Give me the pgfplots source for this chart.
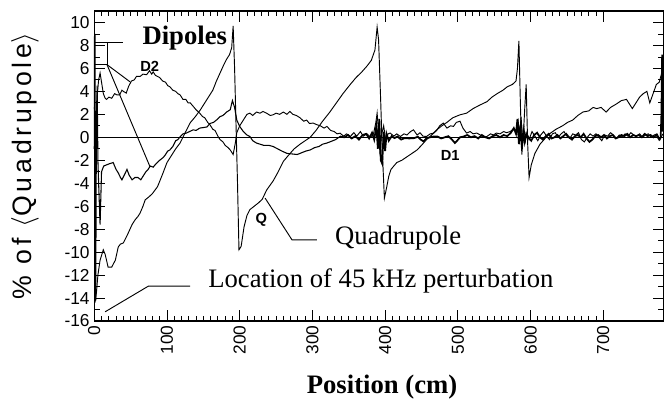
\documentclass[border=0pt]{standalone}
\usepackage{pgfplots}
\pgfplotsset{compat=1.18}
\usepackage{fontspec}
\setmainfont{Liberation Serif}
\newfontfamily\sansf{Liberation Sans}
\newfontfamily\ylabf[LetterSpace=14]{Liberation Sans}
\begin{document}
\begin{tikzpicture}[x=1pt,y=1pt]
\useasboundingbox (0,0) rectangle (499.5,300);
\begin{axis}[
  at={(70.7pt,59.25pt)}, anchor=south west,
  scale only axis, width=427pt, height=232.5pt,
  xmin=0, xmax=783, ymin=-16, ymax=11,
  xtick={0,100,...,700}, minor x tick num=9,
  ytick={-16,-14,...,10}, minor y tick num=1,
  tick align=inside, major tick length=8pt, minor tick length=4pt,
  every tick/.style={black, line width=0.6pt},
  axis line style={black, line width=1pt},
  /pgf/number format/assume math mode=true,
  xticklabel style={rotate=90, anchor=east, font=\sansf\fontsize{13}{14}\selectfont},
  yticklabel style={font=\sansf\fontsize{13}{14}\selectfont},
  clip=false,
]
% zero line
\addplot [black, line width=0.7pt] coordinates {(0,0) (783,0)};
% Q
\addplot [black, line width=0.7pt] coordinates {
(0,8.8) (1,-14.4) (3,-13.5) (5,-12) (8,-10.7) (12.4,-9.8) (15,-10.2) (19,-11.3) (24,-11.3) (29,-10.7) (33,-9.55) (36,-9.3) (40,-9.2) (44,-8.7) (47,-8.3) (52,-7.6) (56,-7.2) (60,-6.9) (63,-6.6) (67,-6.0) (70,-5.45) (75,-5.2) (80,-4.9) (87,-4.3) (94,-3.2) (100,-2.2) (106,-1.6) (112,-1.0) (118,-0.5) (125,0.4) (132,1.27) (139,1.8) (146,2.4) (152,3.0) (157,3.5) (163,4.1) (168,4.9) (173,5.6) (178,6.3) (182,6.8) (186,7.2) (189,7.8) (191,9.7) (193,6) (195,1) (197,-4) (199,-9.8) (202,-9.5) (206,-7.8) (210,-6.8) (214,-6.3) (220,-6.0) (226,-5.7) (231,-5.4) (237,-4.6) (246,-3.8) (253,-3.0) (260,-2.1) (268,-1.5) (275,-1.0) (283,-0.6) (290,-0.3) (297,0.0) (305,0.6) (314,1.4) (324,2.2) (333,3.0) (342,3.8) (352,4.6) (360,5.2) (368,5.7) (375,6.2) (381,6.7) (386,7.6) (389,9.6) (391,8.5) (394,3) (396,-1) (399,-5.3) (402,-4.4) (405,-3.4) (408,-2.8) (416,-2.2) (423,-2.0) (430,-1.7) (437,-1.4) (444,-1.1) (450,-0.7) (457,-0.2) (464,0.2) (471,0.65) (478,1.0) (485,1.3) (493,1.7) (503,1.96) (512,2.1) (521,2.5) (530,2.8) (540,3.1) (547,3.5) (554,3.8) (562,4.1) (568,4.4) (575,4.6) (580,4.9) (582,6) (584,8.4) (586,3) (588,-1.5) (590,0) (592,2.5) (594,4.6) (596,-0.5) (598,-3.5) (601,-2.4) (606,-1.4) (613,-0.6) (620,-0.1) (626,0.3) (635,0.7) (644,1.0) (651,1.3) (658,1.5) (665,1.9) (672,2.2) (680,2.3) (686,2.6) (691,2.5) (697,2.6) (704,2.2) (710,2.6) (718,2.9) (725,3.2) (732,3.3) (736,2.9) (740,2.5) (745,3.0) (750,3.5) (755,3.8) (760,4.0) (764,3.0) (768,3.7) (773,4.6) (777,4.8) (780,5.5) (782,7.1)
};
% D2
\addplot [black, line width=0.7pt] coordinates {
(2,1.0) (4,3.6) (6,5.0) (8,5.6) (10,4.8) (12.5,3.8) (15,3.4) (17,3.3) (20,3.5) (24,3.4) (28,3.8) (31,3.7) (35,3.7) (38,4.1) (40,4.0) (44,3.85) (47,4.4) (51,4.9) (55,5.0) (58,5.3) (63,5.3) (67,5.5) (72,5.45) (76,5.8) (79,5.5) (81,5.7) (84,5.4) (87,5.3) (90,5.2) (94,4.9) (98,4.8) (101,4.5) (104,4.4) (108,4.1) (112,4.0) (115,3.8) (118,3.7) (122,3.3) (126,3.3) (129,3.0) (132,3.0) (136,2.7) (140,2.4) (145,2.1) (149,1.8) (152,1.7) (156,1.3) (159,1.1) (163,0.7) (166,0.6) (170,0.1) (173,-0.2) (177,-0.4) (180,-0.7) (184,-0.9) (187,-1.1) (191,-1.5) (194,-0.5) (196,0.4) (200,1.0) (205,1.5) (210,2.0) (214,2.1) (218,1.9) (223,2.2) (228,2.1) (232,2.25) (237,2.1) (242,1.9) (246,1.96) (250,2.1) (255,2.0) (260,2.2) (265,2.0) (269,2.25) (273,2.0) (278,1.9) (283,1.7) (288,1.4) (292,1.5) (296,1.2) (301,1.24) (306,1.1) (311,1.0) (316,0.8) (320,0.95) (325,0.6) (330,0.5) (334,0.3) (338,0.36) (343,0.1) (347,0.3) (352,0.07) (357,0.4) (361,0.1) (366,0.5) (370,0.1) (375,0.3) (380,0.0) (384,0.3) (387,1.2) (389,2.1) (391,0.5) (393,-1.5) (395,0.2) (398,1.0) (401,-0.3) (404,0.3) (407,0.37) (412,0.1) (416,0.3) (421,0.07) (426,0.3) (430,0.2) (435,0.5) (439,0.65) (444,0.2) (448,0.4) (452,0.1) (457,0.07) (462,0.3) (467,0.37) (471,0.6) (475,1.0) (480,1.24) (485,0.8) (490,1.0) (494,0.95) (498,1.3) (503,1.4) (507,0.8) (512,0.37) (517,0.5) (521,0.3) (526,0.37) (531,0.2) (535,0.0) (540,0.07) (545,0.3) (549,0.2) (553,0.37) (558,0.3) (563,0.5) (567,0.4) (572,0.5) (576,0.7) (579,0.6) (581,0.65) (583,1.4) (585,0.2) (587,1.8) (589,-0.5) (591,0.8) (593,-0.3) (595,0.4) (598,-0.2) (602,0.5) (606,0.1) (610,-0.3) (614,0.2) (618,0.5) (622,0.1) (626,-0.2) (630,0.3) (634,0.4) (638,0.0) (642,0.3) (646,0.5) (650,0.1) (654,-0.1) (658,0.3) (662,0.2) (666,0.4) (670,-0.2) (674,-0.4) (678,0.0) (682,0.3) (686,0.1) (690,0.3) (694,0.0) (698,-0.3) (702,0.2) (706,0.1) (710,0.4) (714,0.2) (718,-0.1) (722,0.2) (726,0.0) (730,0.3) (734,0.1) (738,0.4) (742,0.2) (746,0.1) (750,0.3) (754,0.0) (758,0.2) (762,0.3) (766,0.0) (770,0.2) (774,0.3) (778,-0.2) (782,0.3)
};
% D1, first part (thin as in the reference)
\addplot [black, line width=0.8pt] coordinates {
(0,-1) (1,9.0) (1.5,-5) (2,-14.2) (3,2) (4,4.5) (5,-2) (6,-4) (8,-7.6) (10,-3.0) (13,-2.5) (17,-2.4) (21,-2.3) (26,-2.2) (30,-2.8) (33,-3.1) (36,-3.5) (38,-3.7) (42,-3.2) (45,-2.8) (48,-3.3) (52,-3.7) (56,-3.5) (60,-3.5) (64,-3.7) (67,-3.4) (71,-3.0) (74,-2.8) (77,-2.5) (81,-2.6) (85,-2.3) (90,-2.0) (94,-1.8) (97,-1.6) (101,-1.2) (104,-1.1) (108,-0.8) (112,-0.3) (115,-0.2) (118,0.04) (122,0.3) (126,0.35) (131,0.5) (136,0.65) (140,0.6) (145,0.8) (150,0.85) (155,0.9) (159,1.2) (164,1.3) (168,1.5) (173,1.8) (177,1.9) (182,2.2) (187,2.4) (190,3.2) (193,2.6) (196,1.5) (200,0.95) (205,0.5) (210,0.2) (214,0.07) (218,-0.3) (223,-0.5) (228,-0.6) (233,-0.7) (240,-0.7) (246,-0.8) (252,-1.0) (258,-1.2) (265,-1.4) (272,-1.45) (279,-1.5) (285,-1.35) (291,-1.2) (297,-1.1) (303,-0.9) (309,-0.8) (314,-0.6) (320,-0.5) (326,-0.35) (332,-0.2) (338,0.07)
};
% D1, second part (thick)
\addplot [black, line width=1.3pt] coordinates {
(338,0.07) (344,0.0) (349,0.2) (354,-0.1) (359,0.1) (364,-0.2) (369,0.2) (374,0.3) (378,-0.1) (382,0.4) (385,-0.2) (388,1.0) (390,-1.0) (392,1.6) (394,-2.0) (396,-2.3) (398,0.5) (400,-1.2) (402,0.3) (405,-0.3) (409,0.1) (413,-0.07) (417,0.07) (422,-0.2) (427,-0.07) (433,-0.1) (440,-0.07) (445,0.05) (449,-0.2) (453,-0.37) (457,-0.07) (462,0.0) (467,0.07) (472,0.07) (477,-0.1) (482,0.0) (487,0.1) (492,-0.2) (496,-0.5) (499,-0.3) (503,0.0) (508,0.07) (513,0.2) (518,0.0) (523,0.1) (528,-0.1) (533,0.2) (538,0.0) (543,-0.1) (548,0.1) (553,0.2) (558,0.0) (563,0.2) (568,0.1) (573,0.4) (577,0.8) (580,0.3) (582,1.6) (584,-0.6) (586,1.0) (588,-0.9) (590,0.5) (592,-0.4) (594,0.3) (597,0.0) (601,-0.3) (605,0.2) (609,0.4) (613,0.0) (617,-0.2) (621,0.1) (625,0.3) (629,-0.1) (633,0.0) (637,0.2) (641,-0.1) (645,0.1) (649,0.3) (653,0.0) (657,-0.2) (661,0.1) (665,0.2) (669,0.0) (673,0.3) (677,-0.1) (681,-0.4) (685,-0.2) (689,0.1) (693,0.2) (697,0.0) (701,0.2) (705,-0.1) (709,0.1) (713,0.2) (717,-0.1) (721,0.0) (725,0.2) (729,0.1) (733,0.3) (737,0.0) (741,0.2) (745,0.1) (749,0.2) (753,0.0) (757,0.3) (761,0.1) (765,0.2) (769,0.0) (773,0.2) (777,-0.2) (779,0.0) (780,2.0) (781,7.2) (782,0.5)
};
% annotations
\draw [line width=0.7pt] (axis cs:0,8.25) -- (axis cs:39.6,8.25);
\draw [line width=0.7pt] (axis cs:0,6.33) -- (axis cs:17.5,6.33) -- (axis cs:17.5,8.25);
\draw [line width=0.7pt] (axis cs:17.5,6.33) -- (axis cs:49,4.84);
\draw [line width=0.7pt] (axis cs:17.5,6.33) -- (axis cs:76.7,-2.57);
\draw [line width=0.7pt] (axis cs:235,-5.3) -- (axis cs:272,-8.94) -- (axis cs:306,-8.94);
\draw [line width=0.7pt] (axis cs:14.9,-15.2) -- (axis cs:74.5,-12.96) -- (axis cs:131.7,-12.96);
\node [anchor=base west, inner sep=0pt, font=\bfseries\fontsize{20}{24}\selectfont] at (axis cs:66,8.07) {Dipoles};
\node [anchor=base west, inner sep=0pt, font=\sansf\bfseries\fontsize{11}{12}\selectfont] at (axis cs:63,5.72) {D2};
\node [anchor=center, inner sep=0pt, font=\sansf\bfseries\fontsize{11}{12}\selectfont] at (axis cs:229.6,-7.2) {Q};
\node [anchor=center, inner sep=0pt, font=\sansf\bfseries\fontsize{11}{12}\selectfont] at (axis cs:489.5,-1.6) {D1};
\node [anchor=base west, inner sep=0pt, font=\fontsize{20}{24}\selectfont] at (axis cs:331,-9.38) {Quadrupole};
\node [anchor=base west, inner sep=0pt, font=\fontsize{20}{24}\selectfont] at (axis cs:156.5,-13.05) {Location of 45 kHz perturbation};
\end{axis}
\node [anchor=base, inner sep=0pt, font=\bfseries\fontsize{20}{24}\selectfont] at (286.5,5.25) {Position (cm)};
\node [anchor=base, rotate=90, inner sep=0pt, font=\ylabf\fontsize{20}{22}\selectfont] at (24,175.5) {\% of $\langle$Quadrupole$\rangle$};
\end{tikzpicture}
\end{document}
